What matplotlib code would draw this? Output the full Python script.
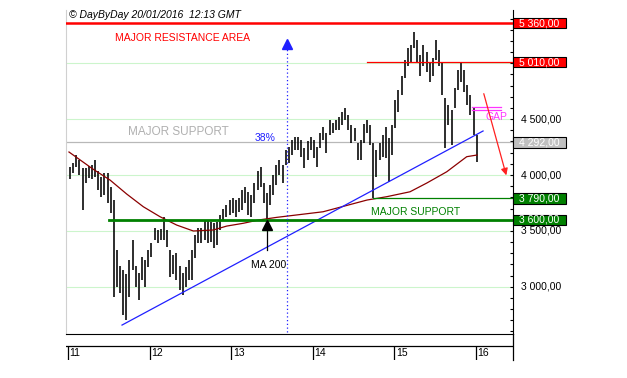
import matplotlib
matplotlib.use('Agg')
import matplotlib.pyplot as plt
import matplotlib.transforms as mtransforms
from matplotlib.patches import Rectangle
import pandas as pd

plt.rcParams['font.family'] = ['Liberation Sans', 'DejaVu Sans']

# bi-weekly high / low ranges
bar_dates = pd.date_range('2011-01-10', periods=131, freq='14D')
highs = [4070, 4110, 4180, 4130, 4060, 4060, 4080, 4090, 4130, 4040,
         3980, 4020, 4020, 3890, 3780, 3330, 3190, 3150, 3110, 3240,
         3420, 3190, 3120, 3270, 3240, 3330, 3390, 3530, 3510, 3520,
         3620, 3510, 3330, 3280, 3300, 3190, 3120, 3180, 3240, 3330,
         3460, 3530, 3530, 3600, 3600, 3580, 3570, 3580, 3640, 3700,
         3730, 3780, 3790, 3780, 3790, 3870, 3890, 3850, 3820, 3930,
         4040, 4070, 3930, 3840, 3910, 4000, 4090, 4130, 4090, 4220,
         4250, 4310, 4340, 4340, 4310, 4240, 4300, 4340, 4310, 4250,
         4380, 4430, 4380, 4490, 4470, 4490, 4520, 4560, 4600, 4540,
         4450, 4420, 4290, 4310, 4460, 4490, 4450, 4290, 4220, 4290,
         4360, 4430, 4330, 4450, 4670, 4760, 4890, 5030, 5140, 5160,
         5280, 5210, 5070, 5160, 5100, 5010, 5050, 5210, 5120, 5010,
         4690, 4630, 4580, 4780, 4940, 5000, 4940, 4810, 4720, 4600,
         4360]
lows = [3960, 4020, 4070, 4000, 3690, 3930, 3970, 3960, 3980, 3870,
        3800, 3820, 3750, 3660, 2910, 3000, 2940, 2750, 2700, 2910,
        3150, 3000, 2880, 3060, 3000, 3180, 3270, 3420, 3390, 3420,
        3420, 3360, 3090, 3110, 3060, 2970, 2930, 3000, 3060, 3060,
        3260, 3390, 3390, 3420, 3390, 3400, 3350, 3370, 3510, 3600,
        3620, 3640, 3660, 3620, 3670, 3690, 3750, 3640, 3620, 3750,
        3870, 3890, 3750, 3600, 3730, 3820, 3910, 4000, 3930, 4090,
        4110, 4180, 4220, 4220, 4160, 4060, 4130, 4220, 4150, 4070,
        4240, 4310, 4200, 4360, 4380, 4400, 4400, 4450, 4490, 4400,
        4290, 4300, 4130, 4130, 4290, 4380, 4270, 3790, 3980, 4130,
        4160, 4150, 3940, 4180, 4420, 4560, 4720, 4870, 4980, 5010,
        5140, 5010, 4890, 4980, 4920, 4830, 4890, 5030, 4980, 4720,
        4240, 4450, 4270, 4600, 4760, 4830, 4740, 4630, 4540, 4360,
        4120]

# 200 day moving average (fractional year, value)
ma_dates = [2011.012, 2011.310, 2011.515, 2011.719, 2011.923, 2012.127, 2012.332,
            2012.536, 2012.781, 2012.945, 2013.148, 2013.332, 2013.558, 2014.125,
            2014.664, 2014.906, 2015.191, 2015.396, 2015.641, 2015.804, 2015.886,
            2016.012]
ma_values = [4206, 4051, 3955, 3830, 3716, 3627, 3552, 3499, 3508, 3543, 3568,
             3597, 3621, 3671, 3776, 3806, 3850, 3928, 4029, 4119, 4164, 4179]

trend_dates = [2011.662, 2016.086]
trend_values = [2657, 4394]

resistance_high = 5360
resistance_low = 5010
support_grey = 4292
support_1 = 3790
support_2 = 3600
gap_levels = [4611, 4582]

axis_values = [4500, 4000, 3500, 3000]
grid_values = [3000, 3500, 4000, 4500, 5000]
years = [2011, 2012, 2013, 2014, 2015, 2016]
year_labels = ['11', '12', '13', '14', '15', '16']

X0, X1 = 2010.9755, 2016.453
Y0, Y1 = 2577, 5477

W, H = 627, 378
fig = plt.figure(figsize=(W / 100, H / 100), dpi=100)
ax = fig.add_axes([66 / W, 1 - 334 / H, 447 / W, 324 / H])
ax.set_xlim(X0, X1)
ax.set_ylim(Y0, Y1)

for v in grid_values:
    ax.axhline(v, color='#ccf5cc', lw=0.8, zorder=0)

t = bar_dates.year + (bar_dates.dayofyear - 1) / 365.25
ax.vlines(t, lows, highs, color='black', lw=1.15, zorder=3)
ax.plot(ma_dates, ma_values, color='#8b0000', lw=0.9, zorder=4)
ax.plot(trend_dates, trend_values, color='#2020ff', lw=0.9, zorder=4)

ax.plot([X0, X1], [resistance_high] * 2, color='#ff0000', lw=1.8, zorder=5)
ax.plot([2014.664, X1], [resistance_low] * 2, color='#ff0000', lw=0.9, zorder=5)
ax.plot([X0, X1], [support_grey] * 2, color='#b8b8b8', lw=0.9, zorder=2)
ax.plot([2014.738, X1], [support_1] * 2, color='#008000', lw=0.9, zorder=5)
ax.plot([2011.502, X1], [support_2] * 2, color='#008000', lw=2.0, zorder=5)

for g in gap_levels:
    ax.plot([2015.947, 2016.303], [g, g], color='#ff33ff', lw=0.9, zorder=5)
ax.text(2016.245, 4515, 'GAP', color='#ff33ff', fontsize=7.5, ha='center', va='center')

# dotted 38% arrow
ax.plot([2013.684, 2013.684], [2595, 5150], color='#2020ff', lw=0.9, ls=(0, (1, 2)), zorder=5)
ax.plot(2013.684, 5170, marker='^', color='#2020ff', ms=7, zorder=6)
ax.text(2013.414, 4331, '38%', color='#2020ff', fontsize=7.5, ha='center', va='center')

# MA 200 arrow
ax.plot([2013.439, 2013.439], [3328, 3530], color='black', lw=0.9, zorder=5)
ax.plot(2013.439, 3556, marker='^', color='black', ms=6.5, zorder=6)
ax.text(2013.463, 3194, 'MA 200', color='black', fontsize=7.5, ha='center', va='center')

# red down arrow
ax.annotate('', xy=(2016.380, 3973), xytext=(2016.086, 4752),
            arrowprops=dict(arrowstyle='-|>', color='#ff2020', lw=0.9, mutation_scale=10),
            zorder=6)

ax.text(2012.409, 5226, 'MAJOR RESISTANCE AREA', color='#ff0000', fontsize=7.5,
        ha='center', va='center')
ax.text(2012.348, 4385, 'MAJOR SUPPORT', color='#b0b0b0', fontsize=8.5,
        ha='center', va='center')
ax.text(2015.265, 3669, 'MAJOR SUPPORT', color='#008000', fontsize=7.5,
        ha='center', va='center')

ax.spines['top'].set_visible(False)
ax.spines['left'].set_color('#d0d0d0')
ax.spines['right'].set_color('black')
ax.spines['bottom'].set_color('black')
ax.set_xticks([])
ax.yaxis.tick_right()
ax.set_yticks(range(2600, 5500, 100))
ax.tick_params(axis='y', direction='in', length=2.5, width=0.8, labelright=False, right=True, left=False)

tr = mtransforms.blended_transform_factory(ax.transAxes, ax.transData)
for v in axis_values:
    ax.text(1 + 8 / 447, v, f'{v // 1000} {v % 1000:03d},00', transform=tr,
            fontsize=7.5, ha='left', va='center', clip_on=False)

boxes = [(resistance_high, '#ff0000'), (resistance_low, '#ff0000'),
         (support_grey, '#c0c0c0'), (support_1, '#008000'), (support_2, '#008000')]
for v, c in boxes:
    ax.add_patch(Rectangle((1.0, v - 46), 53 / 447, 92, transform=tr, facecolor=c,
                           edgecolor='black', lw=0.8, clip_on=False, zorder=7))
    ax.text(1 + 26.5 / 447, v, f'{v // 1000} {v % 1000:03d},00', transform=tr,
            fontsize=7.5, color='white', ha='center', va='center', clip_on=False, zorder=8)

# date strip
ax2 = fig.add_axes([66 / W, 1 - 360 / H, 447 / W, 26 / H])
ax2.set_xlim(X0, X1)
ax2.set_ylim(0, 1)
ax2.axis('off')
ax2.plot([1, 1], [0, 1], color='black', lw=0.9, transform=ax2.transAxes, clip_on=False)
ax2.axhline(14 / 26, color='black', lw=0.9)
ax2.vlines(years, 0, 14 / 26, color='black', lw=0.9)
for y, lab in zip(years, year_labels):
    ax2.text(y + 1.5 / 81.6, 7 / 26, lab, fontsize=7.5, ha='left', va='center')

fig.text(69 / W, 1 - 15 / H, '\u00a9 DayByDay 20/01/2016  12:13 GMT', fontsize=7.5,
         style='italic', ha='left', va='center')

fig.savefig('out.png', dpi=100)
